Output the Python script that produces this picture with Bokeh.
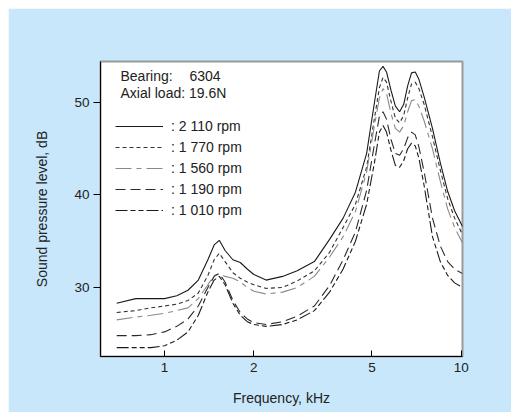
from bokeh.plotting import figure
from bokeh.models import Range1d, FixedTicker, Legend, LegendItem, Label
from bokeh.embed import file_html
from bokeh.resources import INLINE

freq = [0.69, 0.8, 0.9, 1.0, 1.1, 1.2, 1.3, 1.4, 1.47, 1.53, 1.6, 1.7, 1.8, 1.9, 2.0,
        2.2, 2.5, 2.8, 3.2, 3.6, 4.0, 4.4, 4.8, 5.1, 5.3, 5.45, 5.6, 5.8, 6.0, 6.2,
        6.4, 6.6, 6.8, 7.0, 7.2, 7.5, 8.0, 8.5, 9.0, 9.5, 10.1]

spl_2110 = [28.3, 28.8, 28.8, 28.8, 29.1, 29.7, 30.8, 33.0, 34.6, 35.1, 34.0, 33.0, 32.7, 32.0, 31.4,
            30.8, 31.2, 31.8, 32.8, 35.2, 37.5, 40.3, 44.5, 50.0, 53.4, 53.9, 53.3, 51.3, 49.6, 49.0,
            49.8, 51.8, 53.2, 53.3, 52.5, 50.6, 47.2, 43.5, 40.4, 38.3, 36.6]
spl_1770 = [27.3, 27.5, 27.8, 28.0, 28.2, 28.6, 29.4, 31.3, 33.0, 33.7, 32.8, 31.6, 31.0, 30.6, 30.3,
            29.9, 30.0, 30.7, 31.8, 33.8, 36.5, 39.0, 43.0, 48.3, 51.6, 52.7, 52.2, 50.1, 48.3, 47.8,
            48.6, 50.5, 52.0, 52.2, 51.5, 49.8, 46.3, 42.7, 39.6, 37.5, 35.7]
spl_1560 = [26.5, 26.8, 27.0, 27.2, 27.5, 27.8, 28.8, 30.3, 31.3, 31.5, 31.2, 31.0, 30.6, 30.0, 29.6,
            29.3, 29.5, 30.0, 31.2, 33.3, 35.5, 38.2, 42.5, 47.5, 50.5, 51.5, 51.0, 48.8, 47.2, 46.8,
            47.5, 49.0, 50.2, 50.3, 49.6, 48.0, 45.0, 41.5, 38.5, 36.5, 34.8]
spl_1190 = [24.8, 24.8, 24.9, 25.2, 25.8, 26.6, 28.0, 30.0, 31.2, 31.5, 30.6, 28.6, 27.3, 26.6, 26.2,
            26.0, 26.3, 26.9, 28.0, 30.2, 33.0, 36.0, 40.5, 45.5, 48.5, 49.0, 48.2, 46.0, 44.5, 44.3,
            45.0, 46.2, 46.8, 46.5, 45.2, 42.5, 37.5, 34.5, 32.8, 32.0, 31.5]
spl_1010 = [23.5, 23.5, 23.5, 23.7, 24.3, 25.2, 27.0, 29.5, 30.8, 31.2, 30.3, 28.3, 27.0, 26.3, 26.0,
            25.8, 26.0, 26.5, 27.5, 29.5, 32.0, 35.0, 39.0, 43.5, 46.8, 47.5, 46.8, 44.8, 43.2, 43.0,
            43.7, 45.0, 45.6, 45.3, 44.0, 41.0, 35.5, 32.8, 31.3, 30.5, 30.0]

labels = [": 2 110 rpm", ": 1 770 rpm", ": 1 560 rpm", ": 1 190 rpm", ": 1 010 rpm"]
x_ticks = [1, 2, 5, 10]
y_ticks = [30, 40, 50]

series = [spl_2110, spl_1770, spl_1560, spl_1190, spl_1010]
dashes = ["solid", "4 3", "16 5 5 5", "10 5", "12 3 5 3 5 3"]
colors = ["#1a1a1a", "#333333", "#8a8a8a", "#2a2a2a", "#1a1a1a"]

FONT = "Liberation Sans"
BG = "#C8E7FA"

p = figure(width=503, height=404, x_axis_type="log",
           x_range=Range1d(0.6085, 10.1), y_range=Range1d(22.54, 54.43),
           output_backend="svg", toolbar_location=None,
           min_border_left=92, min_border_right=49, min_border_top=53, min_border_bottom=56)
p.margin = (8, 0, 0, 8)
p.background_fill_color = "white"
p.border_fill_color = BG
p.outline_line_color = "#9a9a9a"
p.outline_line_width = 2
p.xgrid.visible = False
p.ygrid.visible = False

p.xaxis.ticker = FixedTicker(ticks=x_ticks)
p.yaxis.ticker = FixedTicker(ticks=y_ticks)
p.xaxis.major_label_overrides = {1: "1", 2: "2", 5: "5", 10: "10"}
for ax in (p.xaxis[0], p.yaxis[0]):
    ax.axis_line_color = "black"
    ax.major_tick_line_color = "black"
    ax.minor_tick_line_color = None
    ax.major_label_text_font = FONT
    ax.major_label_text_font_size = "13.5px"
    ax.major_label_text_color = "#222222"
    ax.axis_label_text_font = FONT
    ax.axis_label_text_font_size = "14px"
    ax.axis_label_text_font_style = "normal"
    ax.axis_label_text_color = "#222222"
p.xaxis.major_tick_in = 6
p.xaxis.major_tick_out = 0
p.yaxis.major_tick_in = 0
p.yaxis.major_tick_out = 7
p.xaxis.major_label_standoff = 6
p.yaxis.major_label_standoff = 4
p.xaxis.axis_label = "Frequency, kHz"
p.yaxis.axis_label = "Sound pressure level, dB"
p.xaxis.axis_label_standoff = 15
p.yaxis.axis_label_standoff = 21

items = []
for s, d, c, lab in zip(series, dashes, colors, labels):
    r = p.line(freq, s, line_color=c, line_width=1.1, line_dash=d)
    items.append(LegendItem(label=lab, renderers=[r]))

legend = Legend(items=items, location=(15, 136), orientation="vertical",
                glyph_width=48, glyph_height=20, spacing=1, padding=0, margin=0,
                label_standoff=8, label_text_font=FONT, label_text_font_size="14px",
                label_text_color="#222222", border_line_alpha=0, background_fill_alpha=0,
                label_height=20)
p.add_layout(legend)

for txt, x, y in [("Bearing:", 20, 281), ("6304", 89, 281), ("Axial load: 19.6N", 20, 264)]:
    p.add_layout(Label(x=x, y=y, x_units="screen", y_units="screen", text=txt,
                       text_font=FONT, text_font_size="14px", text_color="#222222",
                       text_baseline="middle"))

open("out.html", "w").write(file_html(p, INLINE))
